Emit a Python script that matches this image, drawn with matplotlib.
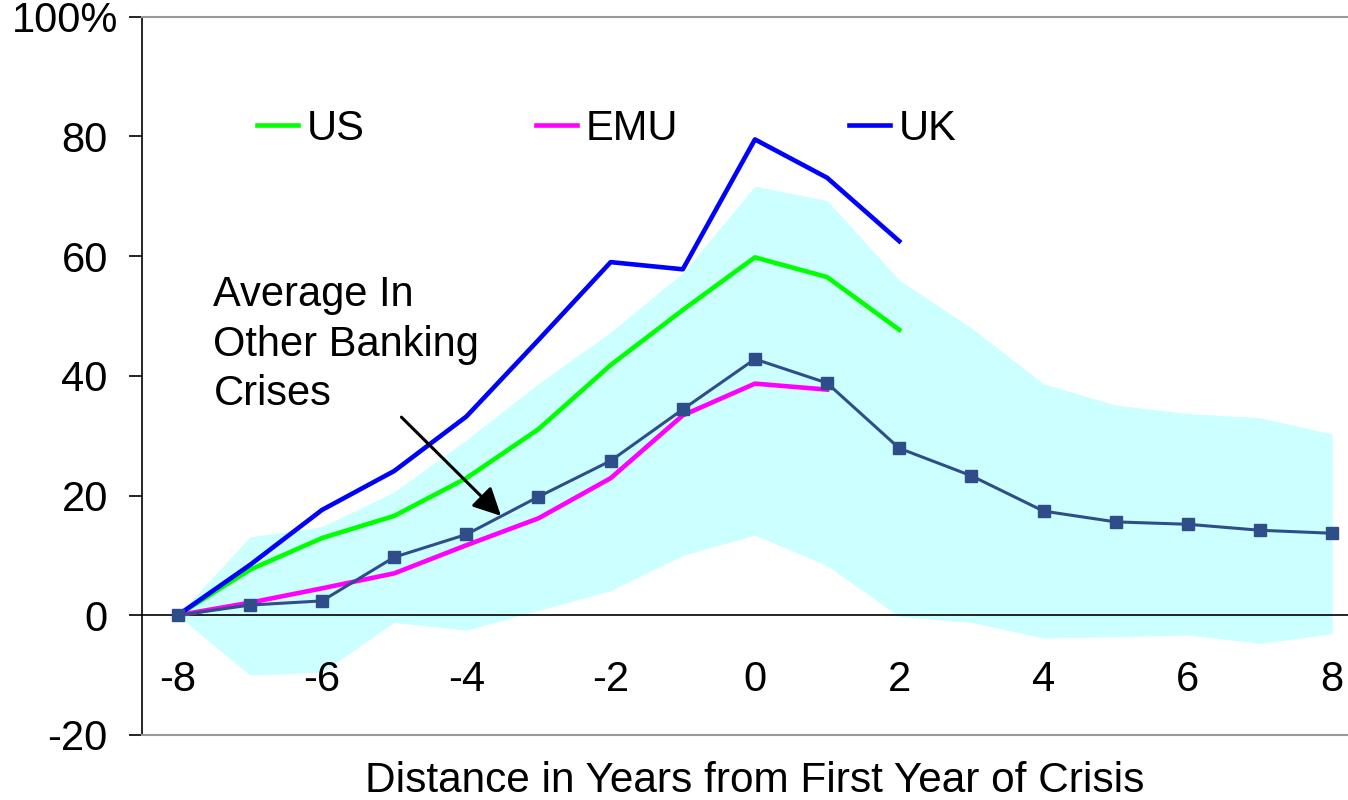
#
########################################################################
# Bibliotecas
########################################################################
#
import matplotlib
matplotlib.use("Agg")
import matplotlib.pyplot as plt
import matplotlib.transforms as mtransforms

plt.rcParams["font.family"] = ["Liberation Sans", "DejaVu Sans"]

#
########################################################################
# Dados
########################################################################
#
anos = [-8, -7, -6, -5, -4, -3, -2, -1, 0, 1, 2, 3, 4, 5, 6, 7, 8]

media = [0, 1.7, 2.4, 9.7, 13.5, 19.8, 25.8, 34.4, 42.8, 38.8,
         27.9, 23.3, 17.4, 15.6, 15.2, 14.2, 13.7]
banda_sup = [0, 13.1, 14.8, 20.6, 29.3, 38.7, 47.3, 57.2, 71.7, 69.3,
             56.0, 48.0, 38.7, 35.1, 33.7, 33.0, 30.3]
banda_inf = [0, -10.0, -9.5, -1.2, -2.5, 0.8, 4.1, 10.0, 13.4, 8.3,
             -0.2, -1.2, -3.8, -3.6, -3.3, -4.7, -3.1]

anos_us = [-8, -7, -6, -5, -4, -3, -2, -1, 0, 1, 2]
us = [0, 7.6, 12.9, 16.6, 22.9, 31.1, 41.8, 51.0, 59.8, 56.5, 47.7]

anos_emu = [-8, -7, -6, -5, -4, -3, -2, -1, 0, 1]
emu = [0, 2.1, 4.5, 7.0, 11.7, 16.2, 22.9, 33.4, 38.7, 37.7]

anos_uk = [-8, -7, -6, -5, -4, -3, -2, -1, 0, 1, 2]
uk = [0, 8.4, 17.6, 24.1, 33.2, 46.0, 59.0, 57.8, 79.5, 73.1, 62.5]

yticks = [-20, 0, 20, 40, 60, 80, 100]
ylabels = ["-20", "0", "20", "40", "60", "80", "100%"]
xticks = [-8, -6, -4, -2, 0, 2, 4, 6, 8]

#
########################################################################
# Figura
########################################################################
#
fig = plt.figure(figsize=(13.48, 8), dpi=100)
ax = fig.add_axes([0.1051, 0.0813, 0.8949, 0.8978])

ax.fill_between(anos, banda_inf, banda_sup, color="#CCFFFF", lw=0, zorder=1)
ax.axhline(0, color="black", lw=1.2, zorder=2)

l_us, = ax.plot(anos_us, us, color="#00FF00", lw=3.3, zorder=3, label="US")
l_emu, = ax.plot(anos_emu, emu, color="#FF00FF", lw=3.3, zorder=3, label="EMU")
l_uk, = ax.plot(anos_uk, uk, color="#0000FF", lw=3.3, zorder=3, label="UK")
ax.plot(anos, media, color="#2F4D89", lw=2.2, marker="s", ms=8.6, zorder=4)

ax.set_xlim(-8.5, 8.22)
ax.set_ylim(-20, 100)

ax.set_yticks(yticks)
ax.set_yticklabels(ylabels, fontsize=30)
ax.tick_params(axis="y", direction="out", length=9.4, width=1.2, pad=15)

# o rótulo 100% fica um pouco mais à direita no original
lbl_topo = ax.get_yticklabels()[-1]
lbl_topo.set_transform(lbl_topo.get_transform() +
                       mtransforms.ScaledTranslation(10 / 100, 0, fig.dpi_scale_trans))

ax.set_xticks(xticks)
ax.set_xticklabels([str(v) for v in xticks], fontsize=30)
ax.tick_params(axis="x", length=0, pad=-54)

ax.spines["right"].set_visible(False)
ax.spines["top"].set_color("#999999")
ax.spines["bottom"].set_color("#999999")
ax.spines["left"].set_linewidth(1.2)
ax.spines["top"].set_linewidth(1.5)
ax.spines["bottom"].set_linewidth(1.5)

ax.set_xlabel("Distance in Years from First Year of Crisis", fontsize=30.5)
ax.xaxis.set_label_coords(0.508, -0.036, transform=ax.transAxes)
ax.xaxis.label.set_va("top")

fig.legend(handles=[l_us, l_emu, l_uk], ncol=3, frameon=False, fontsize=30,
           loc="center left", bbox_to_anchor=(257 / 1348, 1 - 129 / 800),
           borderpad=0, borderaxespad=0, handlelength=0.98, handletextpad=0.22,
           columnspacing=4.1)

ax.text(-7.505, 56.8, "Average In\nOther Banking\nCrises", fontsize=30,
        ha="left", va="top", linespacing=1.3, zorder=5)
ax.annotate("", xy=(-3.52, 16.6), xytext=(-4.9, 33.1),
            arrowprops=dict(arrowstyle="-|>", color="black", lw=2.2,
                            mutation_scale=42, shrinkA=0, shrinkB=0),
            zorder=5)

fig.savefig("out.png", dpi=100)
